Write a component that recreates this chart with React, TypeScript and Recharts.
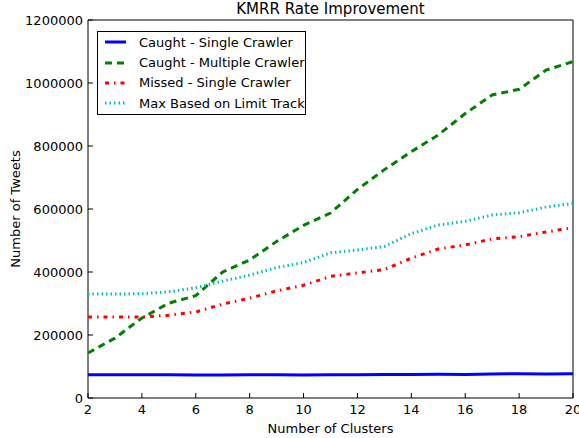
import { Label, Legend, Line, LineChart, ReferenceArea, XAxis, YAxis } from 'recharts';

const FONT = '"DejaVu Sans", sans-serif';

const clusters = [2, 3, 4, 5, 6, 7, 8, 9, 10, 11, 12, 13, 14, 15, 16, 17, 18, 19, 20];
const caughtSingle = [74000, 74000, 74000, 74000, 73000, 73000, 73500, 74000, 73000, 74000, 74000, 74500, 74500, 75500, 75000, 76500, 77000, 76500, 77000];
const caughtMultiple = [143000, 190000, 254000, 301000, 325000, 400000, 438000, 497000, 548000, 587000, 662000, 725000, 782000, 835000, 903000, 962000, 980000, 1041000, 1068000];
const missedSingle = [257000, 257000, 257000, 263000, 273000, 298000, 317000, 340000, 358000, 386000, 397000, 408000, 444000, 473000, 486000, 505000, 512000, 527000, 541000];
const maxLimitTrack = [330000, 330000, 331000, 337000, 350000, 371000, 390000, 414000, 430000, 461000, 470000, 481000, 522000, 549000, 561000, 581000, 588000, 606000, 618000];

const xTicks = [2, 4, 6, 8, 10, 12, 14, 16, 18, 20];
const yTicks = [0, 200000, 400000, 600000, 800000, 1000000, 1200000];

const data = clusters.map((c, i) => ({
  clusters: c,
  caughtSingle: caughtSingle[i],
  caughtMultiple: caughtMultiple[i],
  missedSingle: missedSingle[i],
  maxLimitTrack: maxLimitTrack[i],
}));

const SERIES = [
  { key: 'caughtSingle', name: 'Caught - Single Crawler', color: '#0000ff', width: 3, dash: undefined },
  { key: 'caughtMultiple', name: 'Caught - Multiple Crawler', color: '#008000', width: 3, dash: '7 5' },
  { key: 'missedSingle', name: 'Missed - Single Crawler', color: '#ff0000', width: 3, dash: '4 5 1.5 5' },
  { key: 'maxLimitTrack', name: 'Max Based on Limit Track', color: '#00bfbf', width: 3, dash: '1.5 3' },
];

const tickStyle = { fill: '#000', fontSize: 13, fontFamily: FONT };

const LegendBox = () => (
  <div
    style={{
      border: '1px solid #000',
      background: '#fff',
      width: 209,
      height: 84,
      boxSizing: 'border-box',
      paddingTop: 0,
      paddingLeft: 7,
      fontFamily: FONT,
      fontSize: 13,
      color: '#000',
    }}
  >
    {SERIES.map((s) => (
      <div key={s.key} style={{ display: 'flex', alignItems: 'center', height: 20.4 }}>
        <svg width={21} height={10}>
          <line x1={0} y1={5} x2={21} y2={5} stroke={s.color} strokeWidth={s.width} strokeDasharray={s.dash} />
        </svg>
        <span style={{ marginLeft: 13, whiteSpace: 'nowrap' }}>{s.name}</span>
      </div>
    ))}
  </div>
);

export default function App() {
  return (
    <div style={{ position: 'absolute', left: 0, top: 0, width: 579, height: 438, background: '#fff' }}>
      <div
        style={{
          position: 'absolute',
          left: 88,
          width: 485,
          top: 0,
          textAlign: 'center',
          fontFamily: FONT,
          fontSize: 15,
          lineHeight: '19px',
          color: '#000',
        }}
      >
        KMRR Rate Improvement
      </div>
      <LineChart width={579} height={438} data={data} margin={{ top: 20, right: 6, bottom: 0, left: 0 }}>
        <XAxis
          dataKey="clusters"
          type="number"
          domain={[2, 20]}
          ticks={xTicks}
          interval={0}
          height={40}
          axisLine={false}
          tickSize={-5}
          tickMargin={12}
          stroke="#000"
          tick={tickStyle}
        >
          <Label value="Number of Clusters" position="insideBottom" offset={5} style={{ fill: '#000', fontSize: 13, fontFamily: FONT }} />
        </XAxis>
        <XAxis
          xAxisId="top"
          orientation="top"
          dataKey="clusters"
          type="number"
          domain={[2, 20]}
          ticks={xTicks}
          interval={0}
          height={0}
          axisLine={false}
          tickSize={-5}
          stroke="#000"
          tickFormatter={() => ''}
        />
        <YAxis
          type="number"
          domain={[0, 1200000]}
          ticks={yTicks}
          interval={0}
          width={88}
          axisLine={false}
          tickSize={-5}
          tickMargin={10}
          stroke="#000"
          tick={tickStyle}
          tickFormatter={(v) => String(v)}
        >
          <Label
            value="Number of Tweets"
            angle={-90}
            position="insideLeft"
            offset={15}
            style={{ fill: '#000', fontSize: 13, fontFamily: FONT, textAnchor: 'middle' }}
          />
        </YAxis>
        <YAxis
          yAxisId="right"
          orientation="right"
          type="number"
          domain={[0, 1200000]}
          ticks={yTicks}
          interval={0}
          width={0}
          axisLine={false}
          tickSize={-5}
          stroke="#000"
          tickFormatter={() => ''}
        />
        <ReferenceArea x1={2} x2={20} y1={0} y2={1200000} fill="none" stroke="#000" strokeWidth={1} fillOpacity={0} />
        {SERIES.map((s) => (
          <Line
            key={s.key}
            dataKey={s.key}
            name={s.name}
            type="linear"
            stroke={s.color}
            strokeWidth={s.width}
            strokeDasharray={s.dash}
            dot={false}
            activeDot={false}
            isAnimationActive={false}
          />
        ))}
        <Legend
          layout="horizontal"
          verticalAlign="middle"
          align="center"
          content={<LegendBox />}
          wrapperStyle={{ left: 97, top: 31, width: 209, height: 84 }}
        />
      </LineChart>
    </div>
  );
}
